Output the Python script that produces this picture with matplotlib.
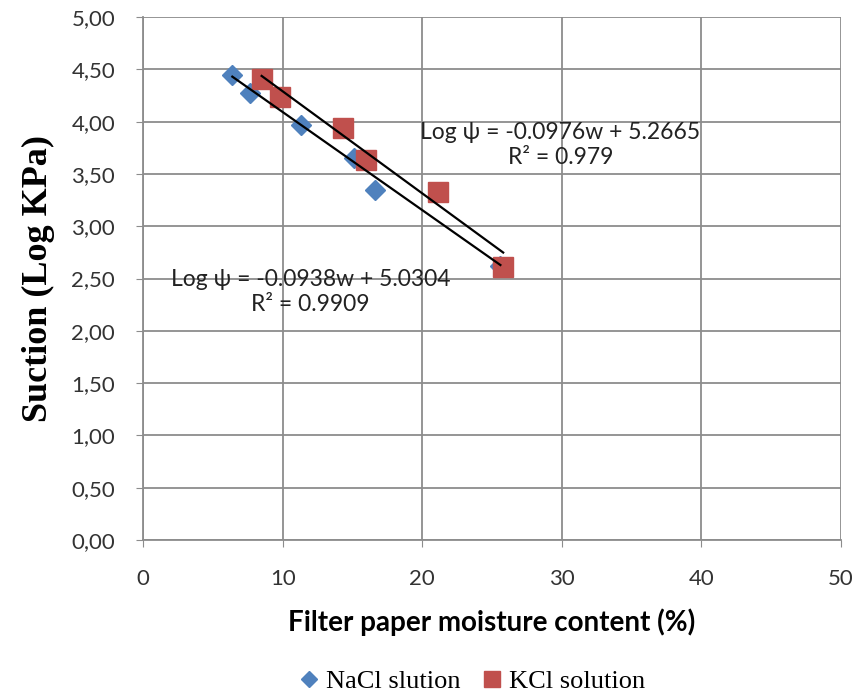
import matplotlib

matplotlib.use("Agg")
import matplotlib.pyplot as plt
from matplotlib.ticker import FuncFormatter, MultipleLocator

# values
nacl_w = [6.4, 7.7, 11.3, 15.1, 16.6, 25.6]
nacl_suction = [4.45, 4.27, 3.97, 3.65, 3.35, 2.62]
kcl_w = [8.5, 9.8, 14.3, 16.0, 21.1, 25.8]
kcl_suction = [4.41, 4.24, 3.94, 3.63, 3.33, 2.61]

# trend line coefficients as printed on the chart
nacl_fit = (-0.0938, 5.0304)
kcl_fit = (-0.0976, 5.2665)
nacl_label = "Log \u03c8 = -0.0938w + 5.0304\nR\u00b2 = 0.9909"
kcl_label = "Log \u03c8 = -0.0976w + 5.2665\nR\u00b2 = 0.979"

BLUE = "#4F81BD"
RED = "#C0504D"
GRID = "#8c8c8c"


def comma_fmt(value, _pos):
    return f"{value:.2f}".replace(".", ",")


fig = plt.figure(figsize=(8.53, 6.95), dpi=100)
ax = fig.add_axes([0.1676, 0.223, 0.8184, 0.7525])

ax.plot(nacl_w, nacl_suction, linestyle="none", marker="D", markersize=10,
        color=BLUE, label="NaCl slution", zorder=3)
ax.plot(kcl_w, kcl_suction, linestyle="none", marker="s", markersize=14,
        color=RED, label="KCl solution", zorder=4)

for xs, (slope, icpt) in ((nacl_w, nacl_fit), (kcl_w, kcl_fit)):
    x0, x1 = min(xs), max(xs)
    ax.plot([x0, x1], [slope * x0 + icpt, slope * x1 + icpt],
            color="black", linewidth=1.6, zorder=5)

ax.text(29.9, 3.78, kcl_label, ha="center", va="center", fontsize=16.5,
        family="Lato", linespacing=1.25, color="#222222", zorder=6)
ax.text(12.0, 2.37, nacl_label, ha="center", va="center", fontsize=16.5,
        family="Lato", linespacing=1.25, color="#222222", zorder=6)

ax.set_xlim(0, 50)
ax.set_ylim(0, 5)
ax.xaxis.set_major_locator(MultipleLocator(10))
ax.yaxis.set_major_locator(MultipleLocator(0.5))
ax.yaxis.set_major_formatter(FuncFormatter(comma_fmt))
ax.grid(True, color=GRID, linewidth=1.3)
ax.set_axisbelow(True)
for side in ("top", "right"):
    ax.spines[side].set_visible(False)
for side in ("left", "bottom"):
    ax.spines[side].set_color(GRID)
    ax.spines[side].set_linewidth(1.3)
ax.tick_params(axis="both", length=5, color=GRID, labelsize=16)
ax.tick_params(axis="x", pad=16)
ax.tick_params(axis="y", pad=15)
for lab in ax.get_xticklabels() + ax.get_yticklabels():
    lab.set_family("Lato")
    lab.set_color("#333333")

ax.set_xlabel("Filter paper moisture content (%)", family="Lato",
              fontweight="bold", fontsize=20, labelpad=14)
ax.set_ylabel("Suction (Log KPa)", family="Liberation Serif",
              fontweight="bold", fontsize=26, labelpad=12)

fig.legend(loc="center", bbox_to_anchor=(0.55, 0.02), ncol=2, frameon=False,
           prop={"family": "Liberation Serif", "size": 19}, handletextpad=0.05,
           handlelength=1.2, columnspacing=0.6, markerscale=0.85)

fig.savefig("out.png", dpi=100)
